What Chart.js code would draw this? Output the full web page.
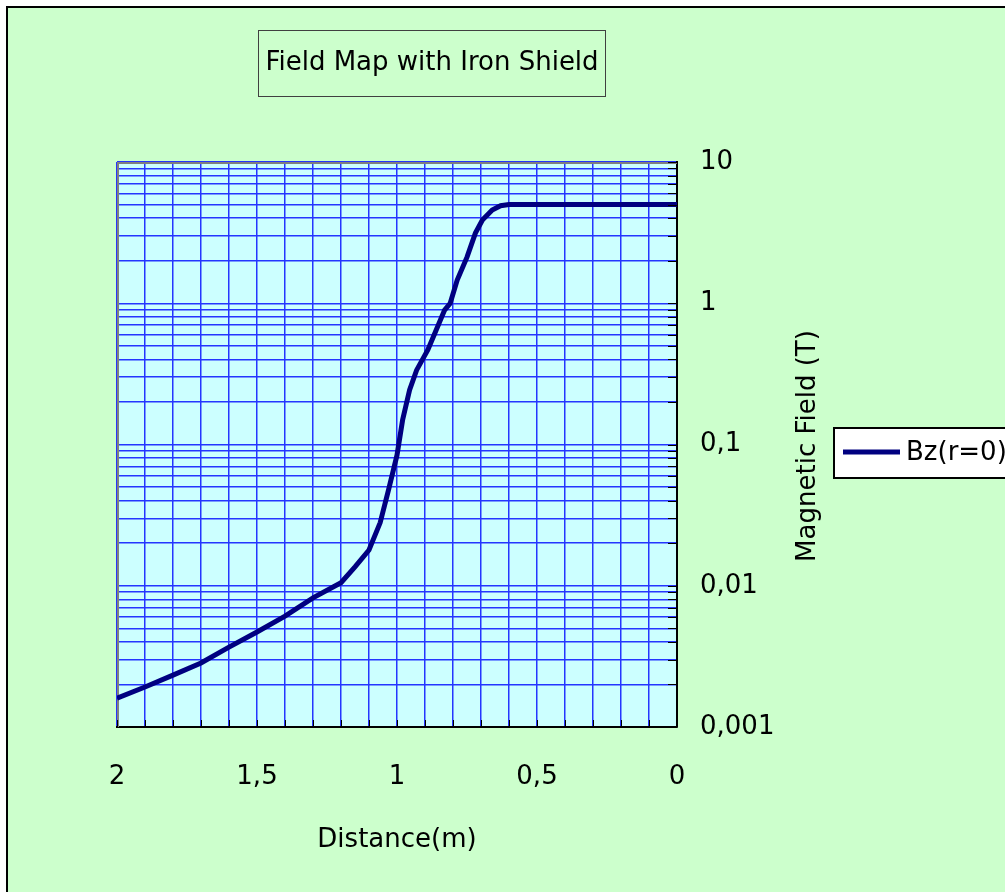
<!DOCTYPE html>
<html>
<head>
<meta charset="utf-8">
<script src="https://cdn.jsdelivr.net/npm/chart.js@4.4.1/dist/chart.umd.min.js"></script>
<style>
  html, body { margin: 0; padding: 0; background: #fff; }
  #wrap { width: 1005px; height: 892px; position: relative; }
</style>
</head>
<body>
<div id="wrap"><canvas id="myChart"></canvas></div>
<script>
// distance from centre (m) and field on axis Bz(r=0) in tesla
var distance = [2.0, 1.9, 1.8, 1.7, 1.6, 1.5, 1.4, 1.3, 1.2, 1.15, 1.1, 1.06, 1.03, 1.0,
  0.98, 0.955, 0.93, 0.89, 0.86, 0.83, 0.81, 0.785, 0.75, 0.72, 0.695, 0.66, 0.63, 0.6,
  0.5, 0.4, 0.3, 0.2, 0.1, 0.0];
var bz = [0.0016, 0.00192, 0.00233, 0.00284, 0.00368, 0.00471, 0.0061, 0.0082, 0.0105, 0.0136, 0.0179, 0.028, 0.048, 0.084,
  0.149, 0.243, 0.336, 0.467, 0.647, 0.895, 1.0, 1.46, 2.12, 3.14, 3.88, 4.57, 4.9, 5.0,
  5.0, 5.0, 5.0, 5.0, 5.0, 5.0];

var yDecades = [0.001, 0.01, 0.1, 1, 10];
var yLabels = ['0,001', '0,01', '0,1', '1', '10'];
var xLabelVals = [2, 1.5, 1, 0.5, 0];
var xLabels = ['2', '1,5', '1', '0,5', '0'];

var titleText = 'Field Map with Iron Shield';
var seriesName = 'Bz(r=0)';

// grid values: 1..9 in each decade
var yGrid = [];
for (var d = 0; d < yDecades.length - 1; d++) {
  for (var m = 1; m < 10; m++) yGrid.push(yDecades[d] * m);
}
yGrid.push(yDecades[yDecades.length - 1]);

var FONT = "'DejaVu Sans', sans-serif";
var GRID = '#2535FF';

var decor = {
  id: 'decor',
  beforeDraw: function(chart) {
    var c = chart.ctx, a = chart.chartArea;
    c.save();
    c.fillStyle = '#ffffff';
    c.fillRect(0, 0, chart.width, chart.height);
    c.fillStyle = '#CCFFCC';
    c.fillRect(7, 7, chart.width, chart.height);
    c.strokeStyle = '#000';
    c.lineWidth = 2;
    c.beginPath();
    c.moveTo(7, chart.height); c.lineTo(7, 7); c.lineTo(chart.width, 7);
    c.stroke();
    c.fillStyle = '#CCFFFF';
    c.fillRect(a.left, a.top, a.right - a.left, a.bottom - a.top);
    c.restore();
  },
  beforeDatasetsDraw: function(chart) {
    // grey plot-area border on the left and top
    var c = chart.ctx, a = chart.chartArea;
    c.save();
    c.strokeStyle = '#808080';
    c.lineWidth = 2;
    c.beginPath();
    c.moveTo(a.left + 1, a.bottom); c.lineTo(a.left + 1, a.top + 1); c.lineTo(a.right, a.top + 1);
    c.stroke();
    c.restore();
  },
  afterDraw: function(chart) {
    var c = chart.ctx, a = chart.chartArea;
    var xs = chart.scales.x, ys = chart.scales.y;
    c.save();
    // inside tick marks
    c.strokeStyle = '#000';
    c.lineWidth = 1;
    c.beginPath();
    ys.ticks.forEach(function(t) {
      var py = Math.round(ys.getPixelForValue(t.value)) + 0.5;
      c.moveTo(a.right - 9, py); c.lineTo(a.right, py);
    });
    xs.ticks.forEach(function(t) {
      var px = Math.round(xs.getPixelForValue(t.value)) + 0.5;
      c.moveTo(px, a.bottom - 7); c.lineTo(px, a.bottom);
    });
    c.stroke();

    // title box
    c.font = '26px ' + FONT;
    c.fillStyle = '#000';
    c.strokeStyle = '#404040';
    c.lineWidth = 1;
    c.strokeRect(258.5, 30.5, 347, 66);
    c.textAlign = 'center';
    c.textBaseline = 'middle';
    c.fillText(titleText, 432, 63);

    // y axis title, reading bottom to top
    c.save();
    c.translate(808, 446);
    c.rotate(-Math.PI / 2);
    c.fillText(ys.options.title.text, 0, 0);
    c.restore();

    // legend
    var ds = chart.data.datasets[0];
    c.fillStyle = '#fff';
    c.fillRect(833, 427, 172, 52);
    c.strokeStyle = '#000';
    c.lineWidth = 2;
    c.strokeRect(834, 428, 172, 50);
    c.strokeStyle = ds.borderColor;
    c.lineWidth = 5;
    c.beginPath();
    c.moveTo(843, 452); c.lineTo(900, 452);
    c.stroke();
    c.fillStyle = '#000';
    c.textAlign = 'left';
    c.fillText(ds.label, 906, 453);
    c.restore();
  }
};

const ctx = document.getElementById('myChart');

new Chart(ctx, {
  type: 'line',
  data: {
    datasets: [{
      label: seriesName,
      data: distance.map(function(x, i) { return { x: x, y: bz[i] }; }),
      borderColor: '#000080',
      borderWidth: 5,
      pointRadius: 0,
      fill: false,
      tension: 0
    }]
  },
  options: {
    responsive: true,
    maintainAspectRatio: false,
    animation: false,
    layout: { padding: { left: 117, top: 162, right: 0, bottom: 0 } },
    scales: {
      x: {
        type: 'linear',
        reverse: true,
        min: 0,
        max: 2,
        afterFit: function(s) { s.height = 165; },
        grid: { drawTicks: false, color: GRID, lineWidth: 1.5 },
        border: { display: true, color: '#000', width: 2 },
        ticks: {
          stepSize: 0.1,
          autoSkip: false,
          maxRotation: 0,
          padding: 35,
          color: '#000',
          font: { family: FONT, size: 26 },
          callback: function(v) {
            for (var i = 0; i < xLabelVals.length; i++) {
              if (Math.abs(v - xLabelVals[i]) < 1e-6) return xLabels[i];
            }
            return '';
          }
        },
        title: {
          display: true,
          text: 'Distance(m)',
          color: '#000',
          font: { family: FONT, size: 26 },
          padding: { top: 0, bottom: 36 }
        }
      },
      y: {
        type: 'logarithmic',
        position: 'right',
        min: 0.001,
        max: 10,
        afterFit: function(s) { s.width = 328; },
        afterBuildTicks: function(s) {
          s.ticks = yGrid.map(function(v) { return { value: v }; });
        },
        grid: { drawTicks: false, color: GRID, lineWidth: 1.5 },
        border: { display: true, color: '#000', width: 2 },
        ticks: {
          autoSkip: false,
          padding: 23,
          color: '#000',
          font: { family: FONT, size: 26 },
          callback: function(v) {
            for (var i = 0; i < yDecades.length; i++) {
              if (Math.abs(v / yDecades[i] - 1) < 1e-6) return yLabels[i];
            }
            return '';
          }
        },
        title: { display: false, text: 'Magnetic Field (T)' }
      }
    },
    plugins: {
      legend: { display: false },
      title: { display: false, text: titleText },
      tooltip: { enabled: false }
    }
  },
  plugins: [decor]
});
</script>
</body>
</html>
